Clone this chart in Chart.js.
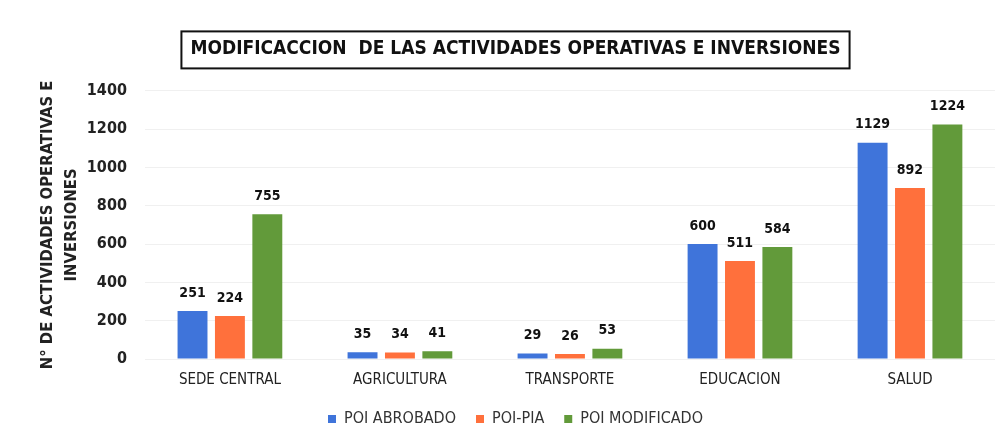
<!DOCTYPE html>
<html>
<head>
<meta charset="UTF-8">
<title>Modificaccion de las actividades operativas e inversiones</title>
<script src="https://cdn.jsdelivr.net/npm/chart.js"></script>
<style>
  html, body { margin: 0; padding: 0; background: #fff; }
  #wrap { width: 1001px; height: 442px; }
</style>
</head>
<body>
<div id="wrap"><canvas id="chart"></canvas></div>
<script>
  const categories = ['SEDE CENTRAL', 'AGRICULTURA', 'TRANSPORTE', 'EDUCACION', 'SALUD'];
  const poiAprobado = [251, 35, 29, 600, 1129];
  const poiPia = [224, 34, 26, 511, 892];
  const poiModificado = [755, 41, 53, 584, 1224];
  const yTicks = [0, 200, 400, 600, 800, 1000, 1200, 1400];

  const FONT = '"Liberation Sans Narrow", "DejaVu Sans Condensed", "Open Sans", sans-serif';
  const TITLE_SIZE = 19;

  // value labels above every bar
  const valueLabels = {
    id: 'valueLabels',
    afterDatasetsDraw(chart) {
      const ctx = chart.ctx;
      ctx.save();
      ctx.font = 'bold 14px ' + FONT;
      ctx.fillStyle = '#111';
      ctx.textAlign = 'center';
      ctx.textBaseline = 'bottom';
      chart.data.datasets.forEach((ds, i) => {
        chart.getDatasetMeta(i).data.forEach((bar, j) => {
          ctx.fillText(ds.data[j], bar.x, bar.y - 11);
        });
      });
      ctx.restore();
    }
  };

  // black frame round the title text
  const titleBox = {
    id: 'titleBox',
    afterDraw(chart) {
      const t = chart.titleBlock;
      if (!t) return;
      const ctx = chart.ctx;
      ctx.save();
      ctx.font = 'bold ' + TITLE_SIZE + 'px ' + FONT;
      const w = ctx.measureText(chart.options.plugins.title.text).width;
      const cx = t.left + t.width / 2;
      const pad = chart.options.plugins.title.padding;
      const cy = t.top + pad.top + (t.height - pad.top - pad.bottom) / 2;
      ctx.strokeStyle = '#111';
      ctx.lineWidth = 2;
      ctx.strokeRect(cx - w / 2 - 9, cy - 18, w + 18, 37);
      ctx.restore();
    }
  };

  new Chart(document.getElementById('chart'), {
    type: 'bar',
    data: {
      labels: categories,
      datasets: [
        { label: 'POI ABROBADO', data: poiAprobado, backgroundColor: '#3F74DA' },
        { label: 'POI-PIA', data: poiPia, backgroundColor: '#FF703C' },
        { label: 'POI MODIFICADO', data: poiModificado, backgroundColor: '#629A3A' }
      ]
    },
    options: {
      responsive: true,
      maintainAspectRatio: false,
      animation: { duration: 0 },
      categoryPercentage: 0.66,
      barPercentage: 0.8,
      layout: { padding: { left: 36, right: 6, top: 0, bottom: 5 } },
      plugins: {
        title: {
          display: true,
          text: 'MODIFICACCION  DE LAS ACTIVIDADES OPERATIVAS E INVERSIONES',
          color: '#111',
          font: { family: FONT, size: TITLE_SIZE, weight: 'bold' },
          padding: { top: 38, bottom: 30 },
          fullSize: true
        },
        legend: {
          position: 'bottom',
          labels: {
            color: '#333',
            font: { family: FONT, size: 16 },
            boxWidth: 8,
            boxHeight: 8,
            padding: 20
          }
        },
        tooltip: { enabled: false }
      },
      scales: {
        x: {
          grid: { display: false, drawTicks: false },
          border: { display: false },
          ticks: { color: '#222', font: { family: FONT, size: 15 }, padding: 12 },
          afterFit(axis) { axis.height -= 10; }
        },
        y: {
          min: 0,
          max: 1400,
          afterBuildTicks(axis) { axis.ticks = yTicks.map(v => ({ value: v })); },
          grid: { color: '#f0f0f0', drawTicks: false },
          border: { display: false },
          ticks: {
            color: '#222',
            font: { family: FONT, size: 16, weight: 'bold' },
            padding: 18,
            callback: v => String(v)
          },
          title: {
            display: true,
            text: ['N° DE ACTIVIDADES OPERATIVAS E', 'INVERSIONES'],
            color: '#222',
            font: { family: FONT, size: 16.5, weight: 'bold', lineHeight: 1.45 },
            padding: { top: 0, bottom: 0 }
          },
          afterFit(axis) { axis.width -= 15; }
        }
      }
    },
    plugins: [valueLabels, titleBox]
  });
</script>
</body>
</html>
